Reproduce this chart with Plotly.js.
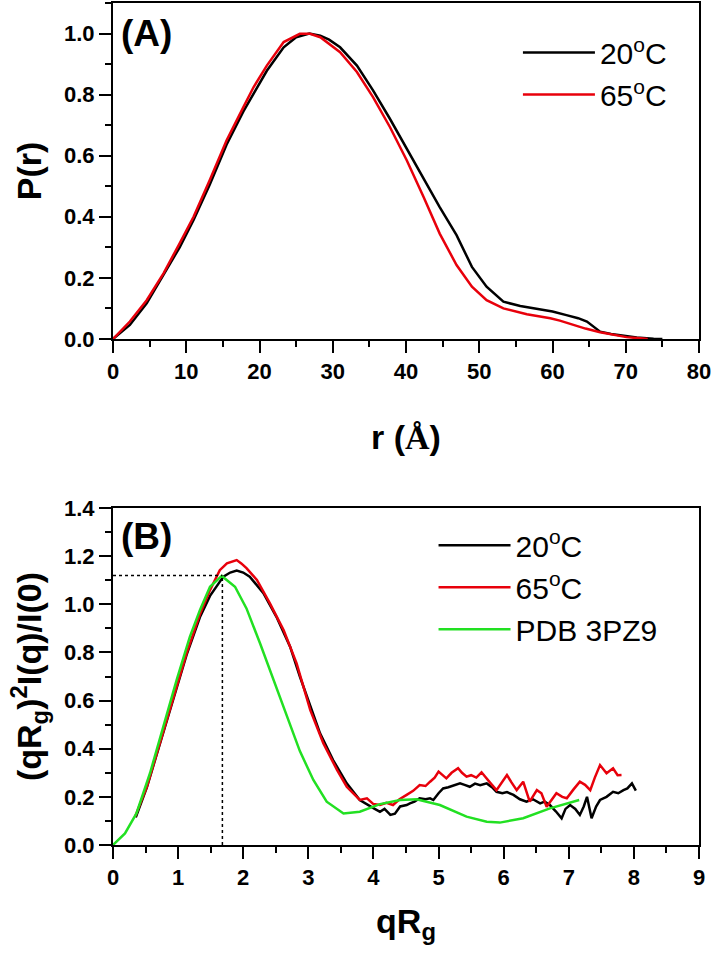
<!DOCTYPE html>
<html>
<head>
<meta charset="utf-8">
<script src="https://cdn.plot.ly/plotly-3.0.1.min.js"></script>
<style>html,body{margin:0;padding:0;background:#fff;}</style>
</head>
<body>
<div id="chart" style="width:714px;height:959px;"></div>
<script>
// ---- Panel A: pair distance distribution P(r) ----
const r20 = [0, 2.3, 4.6, 6.9, 9.1, 11.0, 13.2, 15.5, 17.8, 19.2, 21.0, 23.3, 25.0, 26.8, 28.3, 29.5, 31.0, 33.3, 35.5, 37.8, 40.1, 42.4, 44.6, 46.9, 49.0, 51.0, 53.3, 55.6, 57.8, 60.0, 61.9, 63.5, 64.7, 65.6, 66.5, 68.0, 69.7, 71.5, 73.8, 75.0];
const p20 = [0, 0.046, 0.117, 0.21, 0.30, 0.39, 0.505, 0.636, 0.745, 0.803, 0.878, 0.955, 0.988, 1.0, 0.993, 0.98, 0.955, 0.895, 0.814, 0.721, 0.623, 0.525, 0.432, 0.34, 0.236, 0.171, 0.122, 0.108, 0.10, 0.09, 0.078, 0.068, 0.057, 0.04, 0.024, 0.016, 0.01, 0.005, 0.001, 0];
const r65 = [0, 2.3, 4.6, 6.9, 9.1, 11.0, 13.2, 15.5, 17.8, 19.2, 21.0, 23.3, 25.5, 26.9, 28.3, 29.2, 31.0, 33.3, 35.5, 37.8, 40.1, 42.4, 44.6, 46.9, 49.0, 51.0, 53.3, 56.5, 59.7, 61.0, 62.8, 64.5, 66.5, 68.3, 70.1, 72.0, 73.0];
const p65 = [0, 0.057, 0.127, 0.215, 0.313, 0.40, 0.52, 0.65, 0.759, 0.825, 0.895, 0.972, 0.999, 0.999, 0.988, 0.972, 0.939, 0.874, 0.792, 0.694, 0.585, 0.465, 0.345, 0.242, 0.171, 0.127, 0.10, 0.081, 0.068, 0.060, 0.046, 0.034, 0.022, 0.013, 0.006, 0.002, 0];

// ---- Panel B: dimensionless Kratky plot ----
const q20 = [0.35, 0.52, 0.72, 0.93, 1.13, 1.34, 1.49, 1.695, 1.80, 1.90, 2.00, 2.10, 2.31, 2.51, 2.72, 2.87, 3.03, 3.18, 3.38, 3.59, 3.79, 3.95, 4.02, 4.10, 4.17, 4.26, 4.33, 4.41, 4.51, 4.56, 4.63, 4.71, 4.80, 4.87, 4.92, 5.00, 5.07, 5.15, 5.25, 5.33, 5.40, 5.48, 5.56, 5.64, 5.74, 5.82, 5.89, 5.98, 6.05, 6.15, 6.25, 6.35, 6.45, 6.56, 6.63, 6.71, 6.80, 6.89, 6.95, 7.02, 7.10, 7.17, 7.23, 7.28, 7.35, 7.42, 7.48, 7.58, 7.68, 7.76, 7.84, 7.90, 7.97, 8.03];
const k20 = [0.115, 0.24, 0.42, 0.61, 0.79, 0.95, 1.035, 1.115, 1.132, 1.14, 1.132, 1.115, 1.046, 0.948, 0.824, 0.70, 0.575, 0.464, 0.353, 0.256, 0.187, 0.159, 0.15, 0.138, 0.15, 0.125, 0.13, 0.16, 0.166, 0.173, 0.18, 0.194, 0.19, 0.194, 0.187, 0.215, 0.235, 0.24, 0.25, 0.256, 0.25, 0.242, 0.255, 0.248, 0.256, 0.24, 0.221, 0.215, 0.22, 0.208, 0.19, 0.18, 0.19, 0.173, 0.18, 0.166, 0.14, 0.111, 0.15, 0.166, 0.15, 0.125, 0.16, 0.20, 0.111, 0.16, 0.187, 0.20, 0.221, 0.215, 0.228, 0.235, 0.256, 0.226];
const q65 = [0.34, 0.52, 0.72, 0.93, 1.13, 1.34, 1.49, 1.64, 1.75, 1.90, 1.97, 2.05, 2.21, 2.41, 2.62, 2.82, 3.03, 3.23, 3.44, 3.59, 3.79, 3.90, 4.00, 4.10, 4.20, 4.30, 4.40, 4.51, 4.61, 4.71, 4.80, 4.87, 4.94, 5.00, 5.07, 5.12, 5.20, 5.30, 5.36, 5.43, 5.50, 5.58, 5.66, 5.75, 5.82, 5.89, 5.97, 6.05, 6.12, 6.20, 6.30, 6.40, 6.51, 6.58, 6.66, 6.74, 6.81, 6.90, 6.97, 7.07, 7.17, 7.25, 7.33, 7.40, 7.48, 7.58, 7.64, 7.68, 7.75, 7.81];
const k65 = [0.118, 0.242, 0.423, 0.616, 0.796, 0.962, 1.059, 1.142, 1.17, 1.184, 1.17, 1.15, 1.101, 1.004, 0.893, 0.755, 0.56, 0.423, 0.312, 0.242, 0.187, 0.194, 0.17, 0.166, 0.175, 0.166, 0.19, 0.208, 0.225, 0.249, 0.245, 0.263, 0.28, 0.305, 0.29, 0.277, 0.30, 0.319, 0.30, 0.284, 0.29, 0.28, 0.302, 0.27, 0.25, 0.228, 0.26, 0.291, 0.26, 0.228, 0.263, 0.18, 0.228, 0.215, 0.159, 0.19, 0.215, 0.20, 0.194, 0.23, 0.263, 0.25, 0.228, 0.28, 0.332, 0.298, 0.31, 0.319, 0.29, 0.291];
const qPDB = [0, 0.184, 0.36, 0.568, 0.773, 0.978, 1.18, 1.336, 1.49, 1.67, 1.874, 2.05, 2.258, 2.462, 2.667, 2.87, 3.077, 3.282, 3.54, 3.79, 4.10, 4.41, 4.66, 5.02, 5.43, 5.74, 5.94, 6.30, 6.71, 7.16];
const kPDB = [0, 0.048, 0.131, 0.298, 0.492, 0.686, 0.865, 0.976, 1.073, 1.118, 1.073, 0.983, 0.838, 0.686, 0.533, 0.39, 0.27, 0.18, 0.131, 0.138, 0.17, 0.187, 0.19, 0.166, 0.118, 0.097, 0.093, 0.111, 0.152, 0.187];

// guide lines marking the PDB peak
const peakQ = 1.68;
const peakK = 1.12;

const names = ['20<sup>o</sup>C', '65<sup>o</sup>C', 'PDB 3PZ9'];
const cBlack = '#000000', cRed = '#e8000b', cGreen = '#22e022';

const FONT = 'Liberation Sans, Arial, sans-serif';
const LW = 2.5;

const traces = [
  {x: r20, y: p20, xaxis: 'x', yaxis: 'y', mode: 'lines', name: names[0], line: {color: cBlack, width: LW}, legend: 'legend'},
  {x: r65, y: p65, xaxis: 'x', yaxis: 'y', mode: 'lines', name: names[1], line: {color: cRed, width: LW}, legend: 'legend'},
  {x: q20, y: k20, xaxis: 'x2', yaxis: 'y2', mode: 'lines', name: names[0], line: {color: cBlack, width: LW}, legend: 'legend2'},
  {x: q65, y: k65, xaxis: 'x2', yaxis: 'y2', mode: 'lines', name: names[1], line: {color: cRed, width: LW}, legend: 'legend2'},
  {x: qPDB, y: kPDB, xaxis: 'x2', yaxis: 'y2', mode: 'lines', name: names[2], line: {color: cGreen, width: LW}, legend: 'legend2'}
];

const tickFont = {family: FONT, size: 22, weight: 'bold', color: '#000'};
const titleFont = {family: FONT, size: 34, weight: 'bold', color: '#000'};
const legendFont = {family: FONT, size: 30, color: '#000'};

function axisBase(extra) {
  return Object.assign({
    showgrid: false, zeroline: false, showline: true, linecolor: '#000', linewidth: 2,
    mirror: true, ticks: 'outside', ticklen: 12, tickwidth: 2, tickcolor: '#000',
    tickfont: tickFont, fixedrange: true
  }, extra);
}

const layout = {
  width: 714, height: 959,
  margin: {l: 113, r: 15, t: 3, b: 114},
  paper_bgcolor: '#fff', plot_bgcolor: '#fff',
  showlegend: true,
  xaxis: axisBase({domain: [0, 1], anchor: 'y', range: [0, 80], dtick: 10, tick0: 0,
    minor: {dtick: 5, ticklen: 6, tickwidth: 2, ticks: 'outside', tickcolor: '#000'},
    title: {text: 'r (<span style="font-family:Liberation Serif,Times New Roman,serif">Å</span>)', font: titleFont, standoff: 42}}),
  yaxis: axisBase({domain: [0.601, 1], anchor: 'x', range: [0, 1.1], dtick: 0.2, tick0: 0, tickformat: '.1f',
    minor: {dtick: 0.1, ticklen: 6, tickwidth: 2, ticks: 'outside', tickcolor: '#000'},
    title: {text: 'P(r)', font: titleFont, standoff: 12}}),
  xaxis2: axisBase({domain: [0, 1], anchor: 'y2', range: [0, 9], dtick: 1, tick0: 0,
    minor: {dtick: 0.5, ticklen: 6, tickwidth: 2, ticks: 'outside', tickcolor: '#000'},
    title: {text: 'qR<sub>g</sub>', font: titleFont, standoff: 20}}),
  yaxis2: axisBase({domain: [0, 0.4002], anchor: 'x2', range: [0, 1.4], dtick: 0.2, tick0: 0, tickformat: '.1f',
    minor: {dtick: 0.1, ticklen: 6, tickwidth: 2, ticks: 'outside', tickcolor: '#000'},
    title: {text: '(qR<sub>g</sub>)<sup>2</sup>I(q)/I(0)', font: titleFont, standoff: 12}}),
  legend: {x: 0.691, y: 0.972, xanchor: 'left', yanchor: 'top', bgcolor: 'rgba(0,0,0,0)',
    font: legendFont, itemwidth: 72, tracegroupgap: 0},
  legend2: {x: 0.547, y: 0.387, xanchor: 'left', yanchor: 'top', bgcolor: 'rgba(0,0,0,0)',
    font: legendFont, itemwidth: 72, tracegroupgap: 0},
  shapes: [
    {type: 'line', xref: 'x2', yref: 'y2', x0: 0, x1: peakQ, y0: peakK, y1: peakK, line: {color: '#000', width: 1.5, dash: 'dot'}},
    {type: 'line', xref: 'x2', yref: 'y2', x0: peakQ, x1: peakQ, y0: 0, y1: peakK, line: {color: '#000', width: 1.5, dash: 'dot'}}
  ],
  annotations: [
    {text: '(A)', xref: 'paper', yref: 'paper', x: 0.01, y: 0.991, xanchor: 'left', yanchor: 'top', showarrow: false,
      font: {family: FONT, size: 37, weight: 'bold', color: '#000'}},
    {text: '(B)', xref: 'paper', yref: 'paper', x: 0.01, y: 0.393, xanchor: 'left', yanchor: 'top', showarrow: false,
      font: {family: FONT, size: 37, weight: 'bold', color: '#000'}}
  ]
};

Plotly.newPlot('chart', traces, layout, {displayModeBar: false, staticPlot: true});
</script>
</body>
</html>
